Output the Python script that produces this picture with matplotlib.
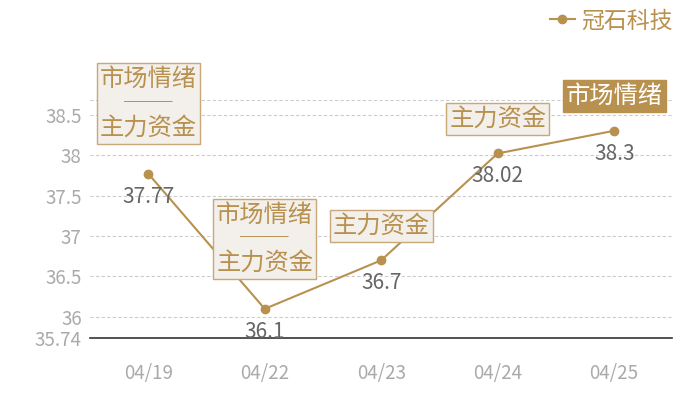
import matplotlib
matplotlib.use("Agg")
import matplotlib.pyplot as plt

plt.rcParams['font.family'] = ['Noto Sans CJK SC', 'DejaVu Sans']

# data
dates = ['04/19', '04/22', '04/23', '04/24', '04/25']
prices = [37.77, 36.1, 36.7, 38.02, 38.3]
tags = ['市场情绪\n──\n主力资金', '市场情绪\n──\n主力资金', '主力资金', '主力资金', '市场情绪']
tag_filled = [False, False, False, False, True]
yticks = [35.74, 36, 36.5, 37, 37.5, 38, 38.5]
series_name = '冠石科技'

gold = '#b8914f'
grey_txt = '#aaaaaa'

fig = plt.figure(figsize=(7, 4), dpi=100)
ax = fig.add_axes([0.1286, 0.155, 0.832, 0.595])

x = list(range(len(dates)))
ax.plot(x, prices, color=gold, lw=1.5, marker='o', ms=6, label=series_name)

ax.set_xlim(-0.5, len(dates) - 0.5)
ax.set_ylim(35.74, 38.68)
ax.set_xticks(x)
ax.set_xticklabels(dates)
ax.set_yticks(yticks)
ax.set_yticklabels([f'{v:g}' for v in yticks])
ax.tick_params(axis='both', length=0, labelsize=13.5, labelcolor=grey_txt)
ax.tick_params(axis='x', pad=18)
ax.tick_params(axis='y', pad=6)

for t in yticks[1:] + [38.68]:
    ax.axhline(t, color='#cccccc', lw=0.8, ls=(0, (3, 2)), zorder=0)

for s in ['top', 'right', 'left']:
    ax.spines[s].set_visible(False)
ax.spines['bottom'].set_color('#333333')
ax.spines['bottom'].set_linewidth(1.2)

# value labels under the points
for xi, v in zip(x, prices):
    ax.annotate(f'{v:g}', (xi, v), xytext=(0, -16.5), textcoords='offset points',
                ha='center', va='center', fontsize=15, color='#666666')

# tag boxes above the points
for xi, v, tag, filled in zip(x, prices, tags, tag_filled):
    multi = '\n' in tag
    off = 23.5 if multi else 15.5
    if filled:
        bbox = dict(boxstyle='square,pad=0.12', fc=gold, ec=gold, lw=1)
        tc = 'white'
    else:
        bbox = dict(boxstyle='square,pad=0.12', fc='#f3f0eb', ec='#c8a878', lw=1)
        tc = gold
    ax.annotate(tag, (xi, v), xytext=(0, off), textcoords='offset points',
                ha='center', va='bottom', fontsize=17.5, color=tc, bbox=bbox,
                linespacing=0.92, multialignment='center', annotation_clip=False)

leg = ax.legend(loc='upper right', bbox_to_anchor=(0.978, 1.005), bbox_transform=fig.transFigure,
                frameon=False, fontsize=16.5, labelcolor=gold, handlelength=1.1,
                handletextpad=0.3, borderpad=0)

fig.savefig('out.png', dpi=100)
